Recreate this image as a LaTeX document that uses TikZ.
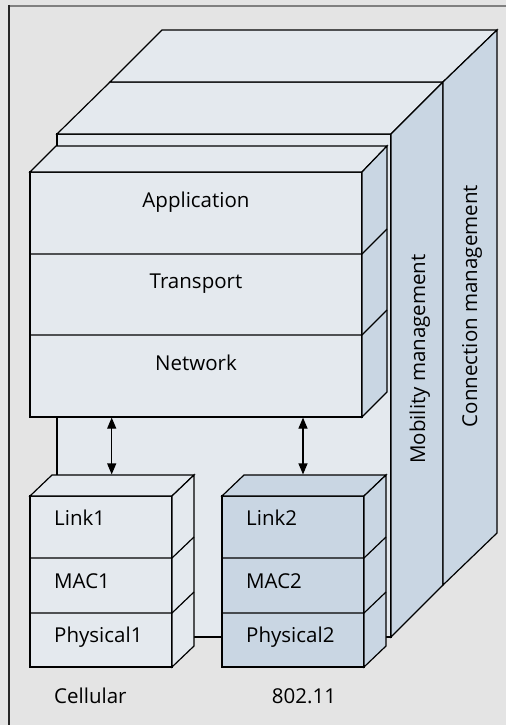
\documentclass[tikz,border=0pt]{standalone}
\usepackage{fontspec}
\setmainfont{Open Sans}
\usetikzlibrary{arrows.meta}
\definecolor{bg}{HTML}{E4E4E4}
\definecolor{lite}{HTML}{E4E9EE}
\definecolor{blu}{HTML}{C9D6E3}
\definecolor{frameg}{HTML}{808080}
\begin{document}
\begin{tikzpicture}[x=1pt,y=-1pt,
  face/.style={draw=black,line width=1.2pt,line join=miter},
  edge/.style={draw=black,line width=1.2pt},
  lbl/.style={font=\fontsize{20.5}{24}\selectfont,inner sep=0pt},
  updown/.style={line width=1.2pt,{Triangle[length=11pt,width=9pt]}-{Triangle[length=11pt,width=9pt]}}]
% background and frame
\fill[bg] (0,0) rectangle (506,725);
\useasboundingbox (0,0) rectangle (506,725);
\draw[frameg,line width=2pt] (8,6) -- (506,6);
\draw[black!85,line width=1.5pt] (9,5) -- (9,725);

% big box (management planes)
\path[face,fill=lite] (57,134) rectangle (391,637);
\path[face,fill=lite] (57,134) -- (110,82) -- (443,82) -- (391,134) -- cycle;
\path[face,fill=lite] (110,82) -- (162,30) -- (497,30) -- (443,82) -- cycle;
\path[face,fill=blu] (391,134) -- (443,82) -- (443,585) -- (391,637) -- cycle;
\path[face,fill=blu] (443,82) -- (497,30) -- (497,533) -- (443,585) -- cycle;
\node[lbl,rotate=90,anchor=base] (mob) at (425,359) {Mobility management};
\node[lbl,rotate=90,anchor=base] (con) at (477,306) {Connection management};

% upper stack
\path[face,fill=lite] (30,172) rectangle (362,417);
\path[face,fill=lite] (30,172) -- (56,146) -- (387,146) -- (362,172) -- cycle;
\path[face,fill=blu] (362,172) -- (387,146) -- (387,392) -- (362,417) -- cycle;
\draw[edge] (30,254) -- (362,254) -- (387,229);
\draw[edge] (30,335) -- (362,335) -- (387,310);
\node[lbl,anchor=base] (app) at (196,207) {Application};
\node[lbl,anchor=base] (tra) at (196,288) {Transport};
\node[lbl,anchor=base] (net) at (196,370) {Network};

% lower stack 1 (cellular)
\path[face,fill=lite] (30,496) rectangle (172,667);
\path[face,fill=lite] (30,496) -- (52,475) -- (194,475) -- (172,496) -- cycle;
\path[face,fill=lite] (172,496) -- (194,475) -- (194,646) -- (172,667) -- cycle;
\draw[edge] (30,558) -- (172,558) -- (194,537);
\draw[edge] (30,613) -- (172,613) -- (194,592);
\node[lbl,anchor=base west] (l1) at (54,525) {Link1};
\node[lbl,anchor=base west] (m1) at (54,588) {MAC1};
\node[lbl,anchor=base west] (p1) at (54,642) {Physical1};
\node[lbl,anchor=base west] (cell) at (54,703) {Cellular};

% lower stack 2 (802.11)
\path[face,fill=blu] (222,496) rectangle (364,667);
\path[face,fill=blu] (222,496) -- (244,475) -- (386,475) -- (364,496) -- cycle;
\path[face,fill=blu] (364,496) -- (386,475) -- (386,646) -- (364,667) -- cycle;
\draw[edge] (222,558) -- (364,558) -- (386,537);
\draw[edge] (222,613) -- (364,613) -- (386,592);
\node[lbl,anchor=base west] (l2) at (246,525) {Link2};
\node[lbl,anchor=base west] (m2) at (246,588) {MAC2};
\node[lbl,anchor=base west] (p2) at (246,642) {Physical2};
\node[lbl,anchor=base] (wifi) at (304,703) {802.11};

% arrows
\coordinate (a1t) at (111.7,417.6);
\coordinate (a1b) at (111.7,474.4);
\coordinate (a2t) at (303,417.6);
\coordinate (a2b) at (303,474.4);
\draw[updown] (a1t) -- (a1b);
\draw[updown] (a2t) -- (a2b);
\end{tikzpicture}
\end{document}
